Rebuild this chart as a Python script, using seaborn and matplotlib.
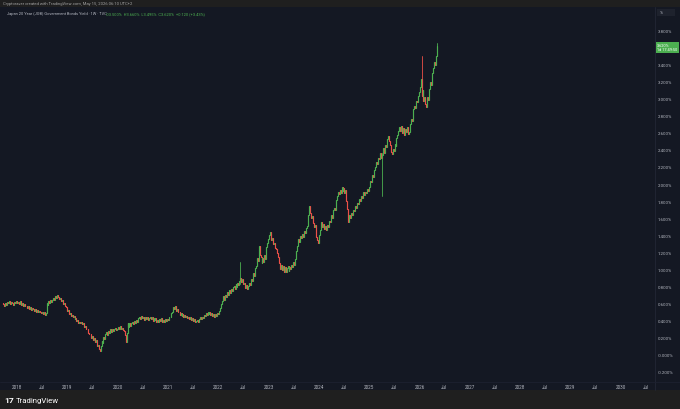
import pandas as pd
import seaborn as sns
import matplotlib
matplotlib.use("Agg")
from matplotlib import pyplot as plt
import matplotlib.dates as mdates
from matplotlib.patches import Rectangle
from matplotlib.lines import Line2D

# weekly closes (%), JP20Y
closes_2017 = [0.59, 0.57, 0.60, 0.58, 0.61, 0.60, 0.62, 0.59, 0.61, 0.60, 0.58, 0.61, 0.60, 0.62, 0.60]
closes_2018 = [0.61, 0.59, 0.62, 0.60, 0.58, 0.60, 0.57, 0.59,
               0.56, 0.57, 0.54, 0.56, 0.53, 0.55, 0.52, 0.54, 0.53,
               0.51, 0.53, 0.50, 0.52, 0.49, 0.51, 0.50, 0.48, 0.50,
               0.47, 0.49, 0.46, 0.48,
               0.60, 0.58, 0.62, 0.60, 0.63,
               0.61, 0.64, 0.66, 0.64, 0.68, 0.66, 0.69, 0.67, 0.65,
               0.66, 0.62, 0.63, 0.59, 0.60, 0.56, 0.55, 0.51]
closes_2019 = [0.52, 0.47, 0.48, 0.45, 0.46, 0.43, 0.45, 0.41, 0.42, 0.39, 0.40, 0.37, 0.38,
               0.36, 0.38, 0.35, 0.36, 0.32, 0.33, 0.29, 0.30, 0.25, 0.23,
               0.24, 0.19, 0.21, 0.17, 0.19, 0.14, 0.16, 0.10, 0.11, 0.06, 0.04,
               0.09, 0.15, 0.13, 0.20, 0.18, 0.23,
               0.26, 0.22, 0.27, 0.25, 0.29, 0.26, 0.30, 0.27, 0.29, 0.31, 0.28, 0.30]
closes_2020 = [0.32, 0.30, 0.33, 0.29, 0.31, 0.28, 0.27,
               0.22, 0.14, 0.25,
               0.36, 0.32, 0.37, 0.33, 0.36, 0.38, 0.35, 0.39, 0.36, 0.40,
               0.38, 0.42, 0.44, 0.41, 0.45, 0.42, 0.43, 0.40, 0.44, 0.41,
               0.43, 0.40, 0.42, 0.44, 0.41, 0.43, 0.39, 0.42, 0.40, 0.42, 0.38, 0.40,
               0.38, 0.41, 0.39, 0.42, 0.38, 0.40, 0.38, 0.41, 0.39, 0.41]
closes_2021 = [0.40, 0.44, 0.43, 0.48, 0.50, 0.55, 0.53, 0.56,
               0.51, 0.53, 0.49, 0.50, 0.46,
               0.48, 0.45, 0.47, 0.44, 0.46, 0.43, 0.45, 0.42, 0.44, 0.41, 0.43, 0.40, 0.42, 0.39, 0.41, 0.38, 0.39,
               0.40, 0.38, 0.41, 0.43, 0.41, 0.44, 0.42, 0.46, 0.45, 0.48, 0.46, 0.49, 0.47, 0.50,
               0.46, 0.48, 0.45, 0.47, 0.44, 0.47, 0.45, 0.48, 0.47]
closes_2022 = [0.51, 0.54, 0.59, 0.62, 0.68,
               0.64, 0.70, 0.67, 0.73, 0.69, 0.75, 0.72, 0.77, 0.74, 0.79, 0.80,
               0.76, 0.82, 0.79, 0.84, 0.81, 0.86, 0.90,
               0.85, 0.88, 0.82, 0.84, 0.78, 0.81, 0.77, 0.80,
               0.84, 0.81, 0.88, 0.86, 0.95, 0.92, 1.01,
               1.04, 1.13, 1.10, 1.27, 1.17, 1.14, 1.07,
               1.13, 1.08, 1.16, 1.12, 1.26, 1.31, 1.35]
closes_2023 = [1.40, 1.44, 1.34, 1.36, 1.29, 1.31, 1.25, 1.24,
               1.19, 1.14, 1.07, 1.00,
               1.05, 0.99, 1.03, 0.97, 1.02, 0.96, 1.01, 1.04, 0.98, 1.02,
               1.00, 1.05, 1.02, 1.08, 1.05, 1.12,
               1.21, 1.27, 1.35,
               1.32, 1.39, 1.36, 1.41, 1.38, 1.45, 1.42, 1.48, 1.51,
               1.63, 1.74, 1.66, 1.60, 1.62, 1.54,
               1.49, 1.52, 1.42, 1.38, 1.34, 1.31]
closes_2024 = [1.40, 1.46, 1.55,
               1.50, 1.53, 1.47, 1.51, 1.46,
               1.52, 1.50, 1.57,
               1.55, 1.63, 1.60, 1.69, 1.72, 1.70, 1.81, 1.86,
               1.91, 1.88, 1.93, 1.89, 1.96, 1.92, 1.95,
               1.90, 1.93, 1.80, 1.71, 1.55,
               1.63, 1.60, 1.66, 1.64, 1.70,
               1.68, 1.74, 1.72, 1.78, 1.76, 1.82, 1.80, 1.86, 1.84, 1.91,
               1.87, 1.91, 1.89, 1.94, 1.92, 1.97]
closes_2025 = [1.98, 2.04, 2.02, 2.11, 2.08, 2.16, 2.20, 2.26,
               2.24, 2.31, 2.29, 2.36, 2.30,
               2.34,
               2.42, 2.37, 2.46, 2.44, 2.53, 2.57,
               2.50, 2.46, 2.38, 2.35,
               2.41, 2.39, 2.47, 2.45, 2.54, 2.58, 2.62, 2.67,
               2.62, 2.68, 2.60, 2.66, 2.58, 2.65, 2.61, 2.67, 2.59, 2.61,
               2.71, 2.77, 2.74, 2.88,
               2.92, 2.89, 2.98, 2.96, 3.04, 3.08]
closes_2026 = [3.14, 3.24, 3.04,
               3.10, 2.98, 3.02, 2.94, 2.90,
               3.02, 2.99, 3.12, 3.20,
               3.17, 3.31, 3.36, 3.44,
               3.40, 3.50, 3.62]

first_open = 0.60
first_week = "2017-09-22"

# long wicks that stand out
wick_dates = ["2022-06-10", "2025-04-04", "2026-01-16", "2026-05-08"]
wick_lows = [0.82, 1.86, 3.04, 3.50]
wick_highs = [1.08, 2.36, 3.51, 3.66]

year_ticks = list(range(2018, 2031))
last_price = "3.620%"

BG = "#141823"
BAR = "#1f1f1f"
UP = "#4caf50"
DOWN = "#ec5048"
TXT = "#b2b5be"

closes = (closes_2017 + closes_2018 + closes_2019 + closes_2020 + closes_2021 +
          closes_2022 + closes_2023 + closes_2024 + closes_2025 + closes_2026)
dates = pd.date_range(first_week, periods=len(closes), freq="W-FRI")
opens = [first_open] + closes[:-1]

rows = []
for i, (d, o, c) in enumerate(zip(dates, opens, closes)):
	side = "up" if c >= o else "down"
	rows.append({"date": d, "price": o, "cid": i, "dir": side})
	rows.append({"date": d, "price": c, "cid": i, "dir": side})
body = pd.DataFrame(rows)

side_of = dict(zip(dates, ["up" if c >= o else "down" for o, c in zip(opens, closes)]))
wrows = []
for i, (d, lo, hi) in enumerate(zip(pd.to_datetime(wick_dates), wick_lows, wick_highs)):
	wrows.append({"date": d, "price": lo, "cid": i, "dir": side_of[d]})
	wrows.append({"date": d, "price": hi, "cid": i, "dir": side_of[d]})
wicks = pd.DataFrame(wrows)

sns.set_theme(style="dark")
plt.rcParams["font.family"] = ["Roboto", "DejaVu Sans"]

fig = plt.figure(figsize=(6.8, 4.1), dpi=100, facecolor=BG)
W, H = 680.0, 410.0
ax = fig.add_axes([0, (H - 383) / H, 655 / W, (383 - 8) / H])
ax.set_facecolor(BG)

pal = {"up": UP, "down": DOWN}
sns.lineplot(data=wicks, x="date", y="price", units="cid", estimator=None, hue="dir",
			 palette=pal, lw=0.6, legend=False, sort=False, ax=ax)
sns.lineplot(data=body, x="date", y="price", units="cid", estimator=None, hue="dir",
			 palette=pal, lw=0.85, legend=False, sort=False, ax=ax)

ax.set_xlim(mdates.date2num(pd.Timestamp("2017-08-30")), mdates.date2num(pd.Timestamp("2030-09-07")))
ax.set_ylim(-0.329, 4.082)
ax.grid(False)
for s in ax.spines.values():
	s.set_visible(False)
ax.set_xlabel("")
ax.set_ylabel("")

# time axis
xt, xl = [], []
for y in year_ticks:
	xt += [mdates.date2num(pd.Timestamp(f"{y}-01-01")), mdates.date2num(pd.Timestamp(f"{y}-07-01"))]
	xl += [str(y), "Jul"]
ax.set_xticks(xt)
ax.set_xticklabels(xl)
ax.tick_params(axis="x", length=0, pad=1.6, labelsize=3.3, colors=TXT)

# price axis
yt = [v / 10 for v in range(-2, 40, 2) if v != 36]
ax.yaxis.tick_right()
ax.set_yticks(yt)
ax.set_yticklabels(["-0.000%" if abs(v) < 1e-9 else f"{v:.3f}%" for v in yt])
ax.tick_params(axis="y", length=0, pad=2.2, labelsize=3.2, colors=TXT)

# last price label
ax.text(1.0035, (3.61 + 0.329) / 4.411, f"{last_price}\n1d 17:49:50", transform=ax.transAxes,
		ha="left", va="center", fontsize=2.8, color="white", linespacing=1.1,
		bbox=dict(boxstyle="square,pad=0.35", fc=UP, ec="none"), clip_on=False)

# frame: top and bottom bars, separators
fig.patches.append(Rectangle((0, (H - 8) / H), 1, 8 / H, transform=fig.transFigure, fc=BAR, ec="none", zorder=0))
fig.patches.append(Rectangle((0, 0), 1, (H - 391) / H, transform=fig.transFigure, fc=BAR, ec="none", zorder=0))
fig.lines.append(Line2D([655 / W, 655 / W], [(H - 391) / H, (H - 8) / H], transform=fig.transFigure, color="#232735", lw=0.6))
fig.lines.append(Line2D([0, 1], [(H - 383) / H, (H - 383) / H], transform=fig.transFigure, color="#1d2130", lw=0.6))
fig.patches.append(Rectangle((657 / W, (H - 17) / H), 18 / W, 7 / H, transform=fig.transFigure, fc="#1e222d", ec="none"))
fig.text(660 / W, (H - 13.5) / H, "%", fontsize=3, color=TXT, va="center")

fig.text(3 / W, (H - 4) / H, "Cryptoraver created with TradingView.com, May 15, 2026 06:10 UTC+2",
		 fontsize=3.0, color="#a0a0a0", va="center")
fig.text(7 / W, (H - 14) / H, "Japan 20 Year (JGB) Government Bonds Yield · 1W · TVC",
		 fontsize=2.9, color=TXT, va="center")
fig.text(106 / W, (H - 14) / H, "O3.500%  H3.660%  L3.495%  C3.620%  +0.120 (+3.43%)",
		 fontsize=2.9, color=UP, va="center")

fig.text(4 / W, (H - 401) / H, "17", fontsize=6, color="white", fontweight="bold", va="center")
fig.text(16 / W, (H - 401) / H, "TradingView", fontsize=5.6, color="white", va="center")

plt.savefig("out.png", dpi=100, facecolor=BG)
